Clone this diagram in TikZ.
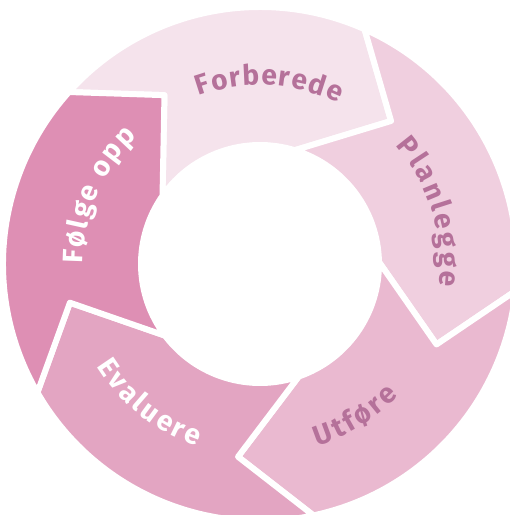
\documentclass[tikz,border=0pt]{standalone}
\usepackage{fontspec}
\newfontfamily\labelfont{Fira Sans Bold}
\usetikzlibrary{decorations.text}

\definecolor{forberedefill}{HTML}{F5E3EC}
\definecolor{planleggefill}{HTML}{F0CFDF}
\definecolor{utforefill}{HTML}{EAB9D0}
\definecolor{evaluerefill}{HTML}{E3A5C2}
\definecolor{folgeoppfill}{HTML}{DE8FB4}
\definecolor{labeltext}{HTML}{B5719A}

\tikzset{
  segment/.style={draw=white, line width=3.4pt, line join=round},
  ringlabel/.style={decorate}
}

\begin{document}
\begin{tikzpicture}[x=0.02cm, y=0.02cm]
\useasboundingbox (-260,-251) rectangle (250,264);

% ring segments, each with its arrow head
\path[segment, fill=forberedefill] (47.5:194) -- (66:257) arc[start angle=66, end angle=138, radius=257]
  -- (119.5:194) -- (145:119) arc[start angle=145, end angle=73, radius=119] -- cycle;
\path[segment, fill=planleggefill] (-24.5:194) -- (-6:257) arc[start angle=-6, end angle=66, radius=257]
  -- (47.5:194) -- (73:119) arc[start angle=73, end angle=1, radius=119] -- cycle;
\path[segment, fill=utforefill] (-96.5:194) -- (-78:257) arc[start angle=-78, end angle=-6, radius=257]
  -- (-24.5:194) -- (1:119) arc[start angle=1, end angle=-71, radius=119] -- cycle;
\path[segment, fill=evaluerefill] (-168.5:194) -- (-150:257) arc[start angle=-150, end angle=-78, radius=257]
  -- (-96.5:194) -- (-71:119) arc[start angle=-71, end angle=-143, radius=119] -- cycle;
\path[segment, fill=folgeoppfill] (119.5:194) -- (138:257) arc[start angle=138, end angle=210, radius=257]
  -- (191.5:194) -- (217:119) arc[start angle=217, end angle=145, radius=119] -- cycle;

% labels along the ring
\path[ringlabel, decoration={text along path, text align=fit to path,
  text={|\labelfont\fontsize{16}{18}\selectfont\color{labeltext}|Forberede}}]
  (110:179) arc[start angle=110, end angle=64, radius=179];
\path[ringlabel, decoration={text along path, text align=fit to path,
  text={|\labelfont\fontsize{16}{18}\selectfont\color{labeltext}|Planlegge}}]
  (41:180) arc[start angle=41, end angle=-7, radius=180];
\path[ringlabel, decoration={text along path, text align=fit to path,
  text={|\labelfont\fontsize{16}{18}\selectfont\color{labeltext}|Utføre}}]
  (-72.5:191) arc[start angle=-72.5, end angle=-43.5, radius=191];
\path[ringlabel, decoration={text along path, text align=fit to path,
  text={|\labelfont\fontsize{16}{18}\selectfont\color{white}|Evaluere}}]
  (212:193) arc[start angle=212, end angle=251, radius=193];
\path[ringlabel, decoration={text along path, text align=fit to path,
  text={|\labelfont\fontsize{16}{18}\selectfont\color{white}|Følge opp}}]
  (180:177) arc[start angle=180, end angle=134, radius=177];
\end{tikzpicture}
\end{document}
